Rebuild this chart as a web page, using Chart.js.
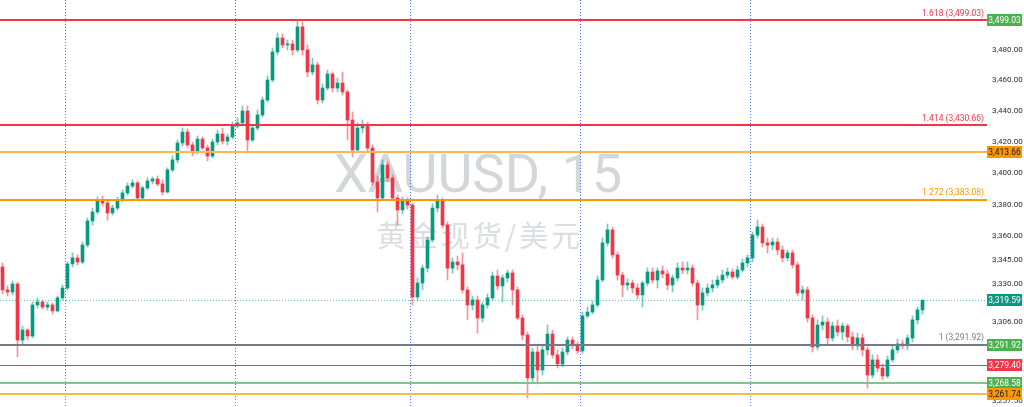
<!DOCTYPE html>
<html>
<head>
<meta charset="utf-8">
<title>XAUUSD, 15</title>
<script src="https://cdn.jsdelivr.net/npm/chart.js@4.4.1/dist/chart.umd.min.js"></script>
<style>
  html, body { margin: 0; padding: 0; background: #ffffff; }
  #wrap { position: relative; width: 1024px; height: 407px; }
</style>
</head>
<body>
<div id="wrap"><canvas id="myChart"></canvas></div>
<script>
// 15 min candles
const opens = [
  3340.6,3326.2,3324.9,3329.9,3295.0,3301.2,3297.5,3316.8,3318.7,3315.5,
  3316.8,3313.1,3321.2,3327.4,3342.5,3346.3,3343.7,3354.4,3369.6,3375.3,
  3382.9,3381.0,3374.7,3377.8,3382.9,3387.4,3391.8,3393.8,3384.2,3390.6,
  3395.0,3396.3,3393.1,3388.0,3402.1,3408.5,3419.4,3426.4,3418.1,3413.6,
  3421.9,3416.2,3411.0,3420.0,3425.1,3420.6,3423.2,3430.3,3432.3,3440.0,
  3421.3,3429.0,3437.4,3447.1,3460.1,3478.4,3487.5,3483.0,3483.6,3479.7,
  3494.8,3479.7,3465.3,3469.9,3447.1,3454.9,3464.0,3454.9,3458.1,3452.3,
  3434.2,3414.9,3429.0,3431.0,3416.2,3394.4,3384.2,3405.3,3397.0,3384.2,
  3376.6,3382.9,3379.7,3321.8,3330.5,3339.9,3357.6,3377.8,3382.9,3367.0,
  3339.9,3343.7,3341.9,3326.2,3316.8,3319.9,3308.7,3316.8,3321.2,3334.9,
  3328.7,3333.7,3336.8,3326.2,3308.7,3298.1,3271.6,3287.6,3276.5,3288.9,
  3298.7,3285.8,3280.2,3287.6,3295.0,3291.9,3288.3,3310.0,3312.4,3316.8,
  3332.4,3355.7,3363.9,3348.2,3335.5,3329.3,3330.5,3327.4,3323.1,3330.5,
  3337.4,3332.4,3338.1,3336.2,3329.3,3333.7,3339.9,3338.7,3339.9,3330.5,
  3316.8,3324.3,3327.4,3329.3,3332.4,3335.5,3337.4,3334.3,3338.7,3343.1,
  3346.3,3360.7,3365.8,3355.7,3354.4,3356.3,3351.3,3346.3,3349.4,3341.9,
  3324.3,3326.2,3308.7,3290.7,3304.3,3306.2,3296.3,3303.7,3300.0,3303.7,
  3296.9,3291.4,3296.3,3288.9,3273.4,3282.7,3277.7,3272.8,3282.7,3288.9,
  3292.6,3291.4,3296.3,3307.5,3313.7
];
const highs = [
  3343.1,3328.7,3331.8,3331.1,3303.7,3301.9,3318.7,3321.2,3319.9,3318.7,
  3318.0,3322.4,3329.3,3343.7,3349.4,3348.2,3356.3,3371.5,3377.8,3384.8,
  3385.5,3382.9,3379.7,3384.8,3389.3,3393.8,3395.7,3395.0,3391.8,3397.0,
  3397.6,3398.3,3395.7,3403.4,3411.1,3421.3,3429.0,3428.4,3420.0,3423.9,
  3423.2,3418.1,3421.9,3427.7,3429.0,3425.1,3432.9,3435.5,3443.3,3443.3,
  3431.0,3440.7,3449.1,3462.7,3481.0,3490.8,3490.2,3486.2,3486.2,3499.0,
  3498.1,3483.0,3474.4,3471.8,3457.5,3466.6,3465.3,3461.4,3465.3,3453.6,
  3439.4,3432.3,3434.2,3432.9,3418.1,3398.3,3408.5,3407.2,3398.9,3386.1,
  3384.8,3384.2,3381.0,3333.7,3341.9,3359.5,3380.4,3386.1,3384.2,3369.0,
  3346.3,3347.5,3349.4,3328.1,3322.4,3322.4,3318.7,3323.7,3337.4,3338.7,
  3335.5,3338.7,3338.7,3328.1,3310.6,3300.0,3290.1,3292.0,3291.4,3304.3,
  3301.2,3288.9,3290.1,3296.9,3296.9,3293.8,3312.4,3315.5,3319.3,3334.9,
  3358.8,3367.7,3365.8,3350.0,3337.4,3333.0,3332.4,3329.9,3331.8,3339.9,
  3339.9,3339.9,3341.2,3338.7,3335.5,3343.1,3343.7,3343.7,3341.9,3332.4,
  3327.4,3329.9,3332.4,3334.9,3338.7,3339.9,3339.3,3341.2,3345.6,3348.2,
  3362.6,3370.2,3367.7,3358.8,3358.8,3358.8,3353.8,3351.3,3351.3,3343.7,
  3328.7,3328.1,3310.6,3307.5,3310.0,3308.7,3306.2,3307.5,3305.6,3305.0,
  3300.0,3299.3,3298.7,3290.7,3285.8,3285.8,3280.2,3285.2,3292.0,3295.6,
  3295.0,3298.1,3310.0,3315.5,3320.3
];
const lows = [
  3323.7,3322.4,3323.1,3284.6,3292.6,3295.0,3296.3,3314.9,3314.3,3313.7,
  3311.2,3312.4,3319.9,3326.2,3340.6,3341.9,3342.5,3353.2,3367.0,3374.0,
  3379.1,3370.2,3373.4,3376.6,3381.6,3386.1,3390.6,3382.9,3382.9,3389.3,
  3393.1,3391.8,3386.1,3387.4,3400.8,3406.6,3417.4,3416.2,3411.0,3412.3,
  3414.9,3407.9,3409.8,3418.1,3418.7,3418.1,3421.9,3429.0,3430.3,3412.9,
  3420.0,3427.7,3436.1,3445.8,3458.8,3476.4,3481.0,3479.7,3476.4,3478.4,
  3476.4,3462.1,3463.4,3444.5,3445.2,3453.6,3452.3,3452.3,3450.3,3421.3,
  3410.4,3413.6,3425.8,3413.6,3392.5,3375.3,3382.9,3394.4,3382.9,3367.0,
  3374.0,3377.2,3316.8,3319.9,3326.2,3337.4,3356.3,3375.3,3365.2,3332.4,
  3336.8,3338.7,3324.3,3307.5,3313.7,3299.3,3306.2,3314.9,3319.9,3326.2,
  3318.7,3331.1,3316.8,3307.5,3295.0,3259.3,3269.2,3267.9,3273.4,3285.8,
  3283.9,3277.7,3278.4,3285.8,3289.5,3286.4,3287.0,3308.7,3311.2,3315.5,
  3331.1,3353.8,3346.3,3332.4,3321.8,3326.2,3324.3,3320.5,3315.5,3328.7,
  3330.5,3327.4,3333.7,3326.2,3324.9,3331.8,3336.2,3336.2,3328.7,3307.5,
  3313.7,3322.4,3324.9,3327.4,3330.5,3333.7,3333.0,3333.0,3337.4,3340.6,
  3343.7,3358.8,3353.2,3349.4,3351.3,3348.2,3343.7,3344.4,3340.0,3322.4,
  3319.9,3306.2,3287.6,3288.9,3301.2,3291.9,3294.4,3297.5,3295.0,3293.8,
  3288.9,3288.9,3285.2,3265.4,3271.6,3275.3,3270.4,3271.6,3281.5,3287.0,
  3289.5,3288.9,3293.8,3305.0,3311.2
];
const closes = [
  3326.2,3324.9,3329.9,3295.0,3301.2,3297.5,3316.8,3318.7,3315.5,3316.8,
  3313.1,3321.2,3327.4,3342.5,3346.3,3343.7,3354.4,3369.6,3375.3,3382.9,
  3381.0,3374.7,3377.8,3382.9,3387.4,3391.8,3393.8,3384.2,3390.6,3395.0,
  3396.3,3393.1,3388.0,3402.1,3408.5,3419.4,3426.4,3418.1,3413.6,3421.9,
  3416.2,3411.0,3420.0,3425.1,3420.6,3423.2,3430.3,3432.3,3440.0,3421.3,
  3429.0,3437.4,3447.1,3460.1,3478.4,3487.5,3483.0,3483.6,3479.7,3494.8,
  3479.7,3465.3,3469.9,3447.1,3454.9,3464.0,3454.9,3458.1,3452.3,3434.2,
  3414.9,3429.0,3431.0,3416.2,3394.4,3384.2,3405.3,3397.0,3384.2,3376.6,
  3382.9,3379.7,3321.8,3330.5,3339.9,3357.6,3377.8,3382.9,3367.0,3339.9,
  3343.7,3341.9,3326.2,3316.8,3319.9,3308.7,3316.8,3321.2,3334.9,3328.7,
  3333.7,3336.8,3326.2,3308.7,3298.1,3271.6,3287.6,3276.5,3288.9,3298.7,
  3285.8,3280.2,3287.6,3295.0,3291.9,3288.3,3310.0,3312.4,3316.8,3332.4,
  3355.7,3363.9,3348.2,3335.5,3329.3,3330.5,3327.4,3323.1,3330.5,3337.4,
  3332.4,3338.1,3336.2,3329.3,3333.7,3339.9,3338.7,3339.9,3330.5,3316.8,
  3324.3,3327.4,3329.3,3332.4,3335.5,3337.4,3334.3,3338.7,3343.1,3346.3,
  3360.7,3365.8,3355.7,3354.4,3356.3,3351.3,3346.3,3349.4,3341.9,3324.3,
  3326.2,3308.7,3290.7,3304.3,3306.2,3296.3,3303.7,3300.0,3303.7,3296.9,
  3291.4,3296.3,3288.9,3273.4,3282.7,3277.7,3272.8,3282.7,3288.9,3292.6,
  3291.4,3296.3,3307.5,3313.7,3319.59
];

const emptyBars = 12;   // blank space right of the last candle
const sessionStarts = [13, 47, 82, 116, 150];
const yTicks = [3480, 3460, 3440, 3420, 3400, 3380, 3360, 3345, 3330, 3306, 3294, 3281.5, 3257.5];
const levels = [3499.03, 3430.66, 3413.66, 3383.08, 3319.59, 3291.92, 3279.40, 3268.58, 3261.74];
const fibValues = [3499.03, 3430.66, 3383.08, 3291.92];
const fibRatios = ['1.618', '1.414', '1.272', '1'];
const priceTags = [3499.03, 3413.66, 3319.59, 3291.92, 3279.40, 3268.58, 3261.74];

document.addEventListener("DOMContentLoaded", function() {
    const up = '#089981';
    const down = '#f23645';

    function fmt(v) {
        return v.toLocaleString('en-US', { minimumFractionDigits: 2, maximumFractionDigits: 2 });
    }

    const labels = [];
    for (let i = 0; i < closes.length + emptyBars; i++) labels.push(String(i));

    const bodies = closes.map((c, i) => [opens[i], c]);
    const wicks = closes.map((c, i) => [lows[i], highs[i]]);
    const bodyColors = closes.map((c, i) => c >= opens[i] ? up : down);
    const wickColors = closes.map((c, i) => c >= opens[i] ? 'rgba(8,153,129,0.55)' : 'rgba(242,54,69,0.55)');

    const lineStyles = [
        { color: '#f23645', width: 2 },
        { color: '#f23645', width: 2 },
        { color: '#ffb74d', width: 2 },
        { color: '#ff9800', width: 2 },
        { color: 'rgba(8,153,129,0.6)', width: 1, dash: [1, 2] },
        { color: '#787b86', width: 2 },
        { color: '#f23645', width: 1 },
        { color: '#81c784', width: 2 },
        { color: '#ffb74d', width: 2 }
    ];
    const fibColors = ['#f23645', '#f23645', '#ff9800', '#787b86'];
    const tagStyles = [
        { bg: '#4caf50', fg: '#ffffff' },
        { bg: '#ff9800', fg: '#131722' },
        { bg: '#089981', fg: '#ffffff' },
        { bg: '#4caf50', fg: '#ffffff' },
        { bg: '#f23645', fg: '#ffffff' },
        { bg: '#4caf50', fg: '#ffffff' },
        { bg: '#ff9800', fg: '#131722' }
    ];

    const overlay = {
        id: 'overlay',
        beforeDatasetsDraw(chart) {
            const ctx = chart.ctx, area = chart.chartArea, x = chart.scales.x;
            ctx.save();
            // watermark
            ctx.textAlign = 'center';
            ctx.textBaseline = 'middle';
            ctx.fillStyle = '#d5d6da';
            ctx.font = '54px Roboto, "Noto Sans", sans-serif';
            ctx.fillText('XAUUSD, 15', 478, 178);
            ctx.fillStyle = '#dcdde0';
            ctx.font = '29px "Noto Sans CJK SC", sans-serif';
            ctx.letterSpacing = '3px';
            ctx.fillText('黄金现货/美元', 480, 236);
            ctx.letterSpacing = '0px';
            // session separators
            ctx.strokeStyle = 'rgba(41,98,255,0.85)';
            ctx.lineWidth = 1;
            ctx.setLineDash([1, 2]);
            sessionStarts.forEach(i => {
                const px = Math.round((x.getPixelForValue(i - 1) + x.getPixelForValue(i)) / 2) + 0.5;
                ctx.beginPath();
                ctx.moveTo(px, area.top);
                ctx.lineTo(px, area.bottom);
                ctx.stroke();
            });
            ctx.restore();
        },
        afterDatasetsDraw(chart) {
            const ctx = chart.ctx, area = chart.chartArea, y = chart.scales.y;
            ctx.save();
            levels.forEach((v, k) => {
                const s = lineStyles[k];
                const py = Math.round(y.getPixelForValue(v)) + (s.width % 2 ? 0.5 : 0);
                ctx.strokeStyle = s.color;
                ctx.lineWidth = s.width;
                ctx.setLineDash(s.dash || []);
                ctx.beginPath();
                ctx.moveTo(area.left, py);
                ctx.lineTo(area.right + 2, py);
                ctx.stroke();
            });
            ctx.setLineDash([]);
            ctx.font = '8.5px Roboto, sans-serif';
            ctx.textAlign = 'right';
            ctx.textBaseline = 'middle';
            fibValues.forEach((v, k) => {
                ctx.fillStyle = fibColors[k];
                ctx.fillText(fibRatios[k] + ' (' + fmt(v) + ')', area.right - 1, y.getPixelForValue(v) - 7);
            });
            ctx.restore();
        },
        afterDraw(chart) {
            const ctx = chart.ctx, area = chart.chartArea, y = chart.scales.y;
            ctx.save();
            ctx.font = '8.5px Roboto, sans-serif';
            ctx.textAlign = 'center';
            ctx.textBaseline = 'middle';
            priceTags.forEach((v, k) => {
                const py = Math.round(y.getPixelForValue(v));
                ctx.fillStyle = tagStyles[k].bg;
                ctx.fillRect(area.right + 2, py - 6, 35, 12);
                ctx.fillStyle = tagStyles[k].fg;
                ctx.fillText(fmt(v), area.right + 19.5, py + 0.5);
            });
            ctx.restore();
        }
    };

    renderChart();

    function renderChart() {
        var ctx = document.getElementById('myChart').getContext('2d');
        var config = {
            type: 'bar',
            data: {
                labels: labels,
                datasets: [{
                    label: 'body',
                    data: bodies,
                    backgroundColor: bodyColors,
                    barThickness: 3,
                    minBarLength: 1,
                    grouped: false,
                    borderWidth: 0
                }, {
                    label: 'wick',
                    data: wicks,
                    backgroundColor: wickColors,
                    barThickness: 1,
                    grouped: false,
                    borderWidth: 0
                }]
            },
            options: {
                responsive: true,
                maintainAspectRatio: false,
                animation: false,
                layout: { padding: 0 },
                plugins: {
                    legend: { display: false },
                    tooltip: { enabled: false }
                },
                scales: {
                    x: {
                        display: false,
                        offset: true,
                        grid: { display: false }
                    },
                    y: {
                        type: 'logarithmic',
                        position: 'right',
                        min: 3253.78,
                        max: 3512.54,
                        bounds: 'data',
                        grid: { display: false, drawTicks: false },
                        border: { display: false },
                        ticks: {
                            autoSkip: false,
                            padding: 7,
                            color: '#2a2e39',
                            font: { size: 8, family: 'Roboto' },
                            callback: v => fmt(v)
                        },
                        afterBuildTicks: s => { s.ticks = yTicks.map(v => ({ value: v })); },
                        afterFit: s => { s.width = 39; s.paddingTop = 0; s.paddingBottom = 0; }
                    }
                }
            },
            plugins: [overlay]
        };

        var myChart = new Chart(ctx, config);
    }
});
</script>
</body>
</html>
